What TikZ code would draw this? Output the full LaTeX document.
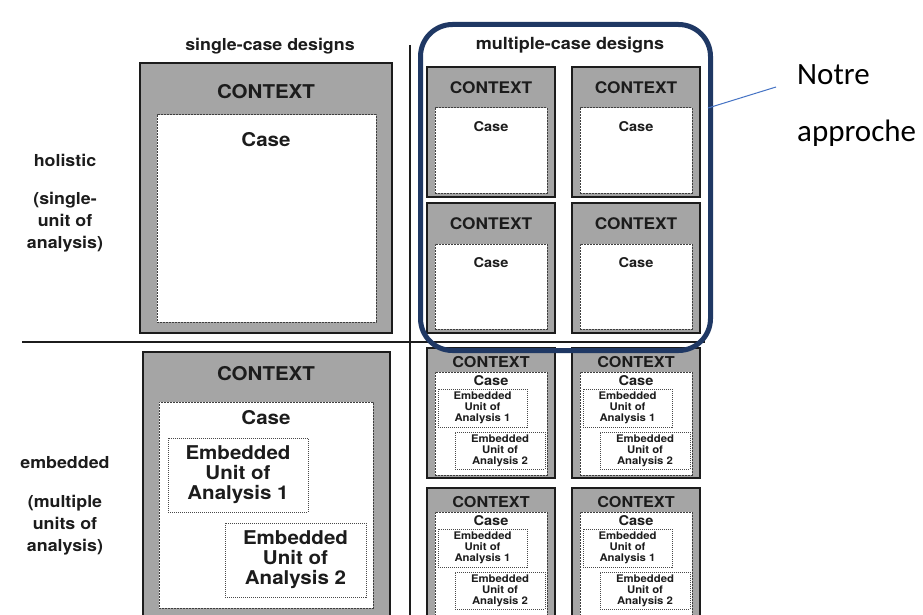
\documentclass[tikz,border=0pt]{standalone}
\usepackage{fontspec}
\setmainfont{TeX Gyre Heros}[FakeStretch=1.08]
\newfontfamily\calib{Carlito}
\definecolor{navy}{RGB}{31,56,100}
\definecolor{callblue}{RGB}{68,114,196}
\definecolor{ink}{RGB}{28,28,28}
\definecolor{ctxgray}{RGB}{165,165,165}
\newcommand\bx[6]{\node[#1, minimum width={(#4)-(#2)}, minimum height={(#5)-(#3)}] (#6) at ({#2},{#3}) {};}
\tikzset{
  ctxbox/.style={draw=ink, line width=1.1pt, fill=ctxgray, anchor=north west, inner sep=0pt, outer sep=0pt},
  casebox/.style={draw=ink!85, dash pattern=on 2pt off 1pt, line width=1pt, fill=white, anchor=north west, inner sep=0pt, outer sep=0pt},
  embbox/.style={draw=ink!80, dash pattern=on 1pt off 1pt, line width=0.8pt, fill=white, anchor=north west, inner sep=0pt, outer sep=0pt},
  lbl/.style={text=ink, inner sep=0pt, align=center, font=\bfseries\fontsize{16.5}{22}\selectfont},
  bigt/.style={text=ink, inner sep=0pt, align=center, font=\bfseries\fontsize{19}{20}\selectfont},
  ctxs/.style={text=ink, inner sep=0pt, font=\bfseries\fontsize{16}{18}\selectfont},
  ctxe/.style={text=ink, inner sep=0pt, font=\bfseries\fontsize{15}{17}\selectfont},
  cases/.style={text=ink, inner sep=0pt, font=\bfseries\fontsize{13.5}{14}\selectfont},
  casee/.style={text=ink, inner sep=0pt, font=\bfseries\fontsize{13.5}{14}\selectfont},
  embs/.style={text=ink, inner sep=0pt, align=center, font=\bfseries\fontsize{10.5}{11.3}\selectfont},
  note/.style={text=black, inner sep=0pt, anchor=base west, font=\calib\fontsize{31}{34}\selectfont},
}
\begin{document}
\begin{tikzpicture}[x=1pt,y=-1pt]
\useasboundingbox[fill=white] (0,0) rectangle (923,615);

% axes
\coordinate (hl) at (22,342);
\coordinate (hr) at (705,342);
\coordinate (vt) at (410,45);
\coordinate (vb) at (410,615);
\draw[ink, line width=1.6pt] (hl) -- (hr);
\draw[ink, line width=1.3pt] (vt) -- (vb);

% headers and row labels
\node[lbl] (hsingle) at (270,46) {single-case designs};
\node[lbl, font=\bfseries\fontsize{16.7}{22}\selectfont] (hmulti) at (570,45) {multiple-case designs};
\node[lbl] (holistic) at (65,160) {holistic};
\node[lbl] (holsub) at (65,222) {(single-\\unit of\\analysis)};
\node[lbl] (embedded) at (65,463) {embedded};
\node[lbl] (embsub) at (65,525) {(multiple\\units of\\analysis)};

% single-case holistic
\bx{ctxbox}{140}{63}{392}{333}{sh}
\bx{casebox}{157}{115}{376}{322}{shc}
\node[bigt] (shctx) at (266,92) {CONTEXT};
\node[bigt] (shcase) at (266,140) {Case};

% single-case embedded
\bx{ctxbox}{143}{352}{390}{616}{se}
\bx{casebox}{159}{402}{373}{608}{sec}
\node[bigt] (sectx) at (266,374) {CONTEXT};
\node[bigt] (secase) at (266,418) {Case};
\bx{embbox}{168}{438}{308}{512}{see1}
\node[bigt] (see1t) at (238,475) {Embedded\\Unit of\\Analysis 1};
\bx{embbox}{225}{523}{366}{597}{see2}
\node[bigt] (see2t) at (295.5,560) {Embedded\\Unit of\\Analysis 2};

% multiple-case holistic
\foreach \i/\dx in {1/0,2/145}{
  \foreach \j/\dy in {1/0,2/136}{
    \bx{ctxbox}{427+\dx}{67+\dy}{555+\dx}{197+\dy}{mh\i\j}
    \bx{casebox}{435+\dx}{108+\dy}{547+\dx}{193+\dy}{mhc\i\j}
    \node[ctxs] (mhctx\i\j) at ({491+\dx},{88+\dy}) {CONTEXT};
    \node[cases] (mhcase\i\j) at ({491+\dx},{127+\dy}) {Case};
  }
}

% multiple-case embedded
\foreach \i/\dx in {1/0,2/145}{
  \foreach \j/\dy in {1/0,2/140}{
    \bx{ctxbox}{427+\dx}{348+\dy}{555+\dx}{478+\dy}{me\i\j}
    \bx{casebox}{435+\dx}{372+\dy}{547+\dx}{475+\dy}{mec\i\j}
    \node[ctxe] (mectx\i\j) at ({491+\dx},{362+\dy}) {CONTEXT};
    \node[casee] (mecase\i\j) at ({491+\dx},{381+\dy}) {Case};
    \bx{embbox}{438+\dx}{389+\dy}{527+\dx}{427+\dy}{mee1\i\j}
    \node[embs] (mee1t\i\j) at ({482.5+\dx},{408+\dy}) {Embedded\\Unit of\\Analysis 1};
    \bx{embbox}{455+\dx}{432+\dy}{545+\dx}{469+\dy}{mee2\i\j}
    \node[embs] (mee2t\i\j) at ({500+\dx},{451+\dy}) {Embedded\\Unit of\\Analysis 2};
  }
}

% highlight
\node[draw=navy, line width=5pt, rounded corners=32pt, anchor=north west, minimum width=290, minimum height=326, inner sep=0pt] (approach) at (418,22) {};
\coordinate (c1) at (708,108);
\coordinate (c2) at (776,87);
\draw[callblue, line width=1pt] (c1) -- (c2);
\node[note] (notre) at (797,85) {Notre};
\node[note] (approche) at (797,142) {approche};
\end{tikzpicture}
\end{document}
